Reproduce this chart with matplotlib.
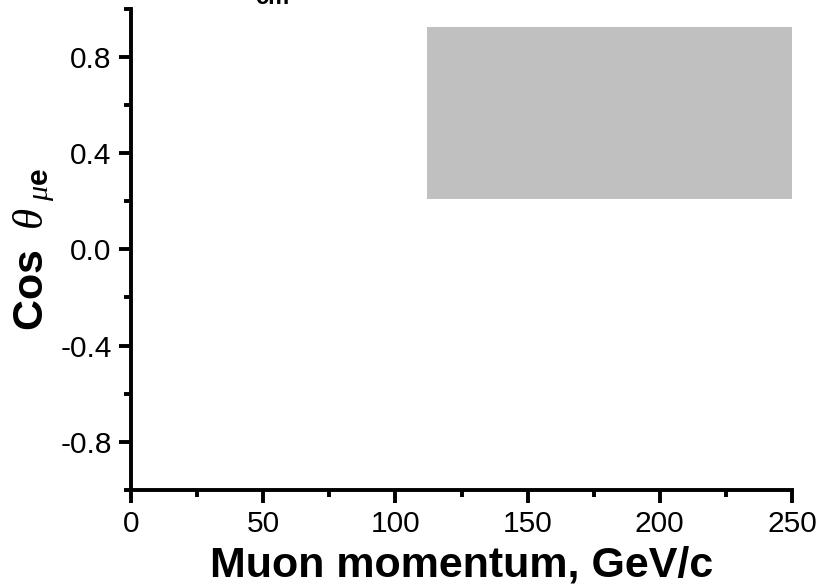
import matplotlib
matplotlib.use('Agg')
import matplotlib.pyplot as plt
from matplotlib.patches import Rectangle
from matplotlib.ticker import MultipleLocator, FormatStrFormatter

plt.rcParams['font.family'] = ['Liberation Sans', 'DejaVu Sans']
plt.rcParams['mathtext.fontset'] = 'custom'
plt.rcParams['mathtext.rm'] = 'Liberation Sans'
plt.rcParams['mathtext.bf'] = 'Liberation Sans:bold'
plt.rcParams['mathtext.it'] = 'Liberation Serif:italic'
plt.rcParams['axes.unicode_minus'] = False

# allowed region (shaded box)
p_range = [112, 250]      # GeV/c
cos_range = [0.21, 0.925]

x_lim = [0, 250]
y_lim = [-1.0, 1.0]

fig = plt.figure(figsize=(8.22, 5.87), dpi=100)
ax = fig.add_axes([0.1594, 0.165, 0.8041, 0.8205])

ax.add_patch(Rectangle((p_range[0], cos_range[0]),
                       p_range[1] - p_range[0],
                       cos_range[1] - cos_range[0],
                       facecolor='#c0c0c0', edgecolor='none'))

ax.set_xlim(x_lim)
ax.set_ylim(y_lim)

for s in ['top', 'right']:
    ax.spines[s].set_visible(False)
for s in ['left', 'bottom']:
    ax.spines[s].set_linewidth(2.8)

ax.xaxis.set_major_locator(MultipleLocator(50))
ax.xaxis.set_minor_locator(MultipleLocator(25))
ax.yaxis.set_major_locator(MultipleLocator(0.4))
ax.yaxis.set_minor_locator(MultipleLocator(0.2))
ax.yaxis.set_major_formatter(FormatStrFormatter('%.1f'))

ax.tick_params(which='major', direction='out', length=9, width=2.8,
               labelsize=21.5, pad=5)
ax.tick_params(which='minor', direction='out', length=5, width=2.8)

ax.set_xlabel('Muon momentum, GeV/c', fontsize=31, fontweight='bold')
ax.xaxis.set_label_coords(0.5, -0.114)
ax.set_ylabel(r'$\mathbf{Cos}\ \ \theta_{\ \mu\mathbf{e}}$', fontsize=31)
ax.yaxis.set_label_coords(-0.112, 0.5)

# cut-off text at the top of the figure
fig.text(0.331, 0.993, 'cm', fontsize=17, fontweight='bold',
         ha='center', va='baseline')

fig.savefig('out.png', dpi=100)
